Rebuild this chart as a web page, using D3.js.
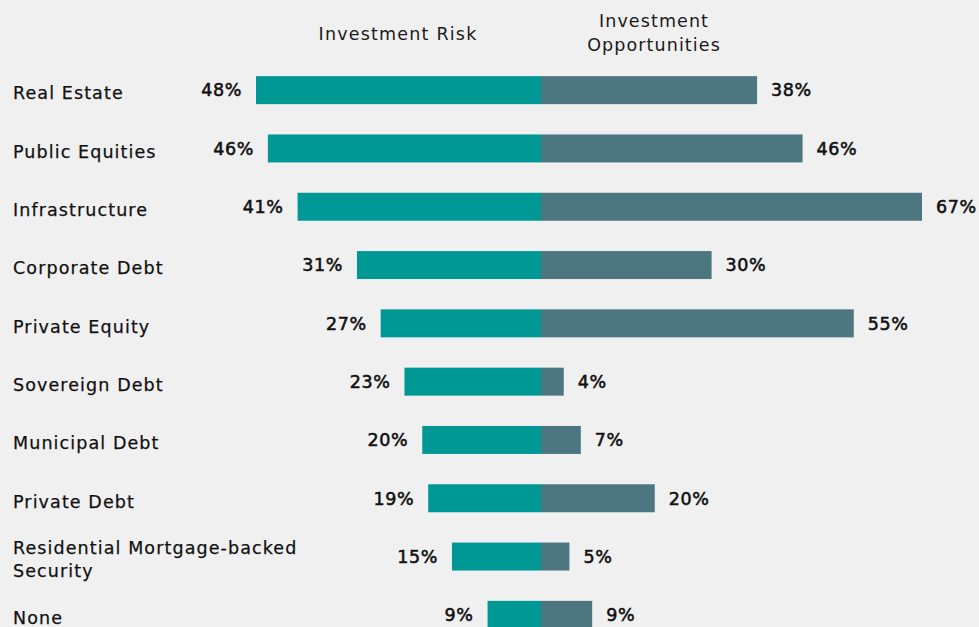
<!DOCTYPE html>
<html>
<head>
<meta charset="utf-8">
<script src="https://cdn.jsdelivr.net/npm/d3@7"></script>
<style>
  html, body { margin: 0; padding: 0; background: #f0f0f0; }
  svg { display: block; font-family: "DejaVu Sans", sans-serif; }
</style>
</head>
<body>
<svg id="chart" width="979" height="627"></svg>
<script>
// Survey shares, percent
const categories = [
    'Real Estate', 'Public Equities', 'Infrastructure', 'Corporate Debt',
    'Private Equity', 'Sovereign Debt', 'Municipal Debt', 'Private Debt',
    'Residential Mortgage-backed Security', 'None'
];
const riskValues = [48, 46, 41, 31, 27, 23, 20, 19, 15, 9];
const opportunityValues = [38, 46, 67, 30, 55, 4, 7, 20, 5, 9];
const headers = [['Investment Risk'], ['Investment', 'Opportunities']];

const W = 979, H = 627;
const centerX = 541;
const colors = { risk: '#009894', opp: '#4c7680' };
const fontSize = 17.5;

const svg = d3.select('#chart').attr('viewBox', [0, 0, W, H]);

// Rows
const y = d3.scaleBand()
    .domain(categories)
    .range([61, 644])
    .paddingInner(0.52)
    .paddingOuter(0.26);

// Left (risk) grows leftward, right (opportunity) grows rightward
const xRisk = d3.scaleLinear().domain([0, d3.max(riskValues)]).range([centerX, 256]);
const xOpp = d3.scaleLinear().domain([0, d3.max(opportunityValues)]).range([centerX, 922]);

const rows = categories.map((c, i) => ({ cat: c, risk: riskValues[i], opp: opportunityValues[i] }));

// Column headers
svg.append('text')
    .attr('x', 398).attr('y', 40)
    .attr('text-anchor', 'middle')
    .attr('font-size', fontSize).attr('letter-spacing', 1.2).attr('fill', '#1a1a1a')
    .text(headers[0][0]);

const oppHead = svg.append('text')
    .attr('x', 654).attr('y', 27)
    .attr('text-anchor', 'middle')
    .attr('font-size', fontSize).attr('letter-spacing', 1.1).attr('fill', '#1a1a1a');
oppHead.selectAll('tspan')
    .data(headers[1])
    .join('tspan')
    .attr('x', 654)
    .attr('dy', (d, i) => i === 0 ? 0 : 24)
    .text(d => d);

// Bars
const g = svg.append('g');

g.selectAll('rect.risk')
    .data(rows)
    .join('rect')
    .attr('class', 'risk')
    .attr('x', d => xRisk(d.risk))
    .attr('y', d => y(d.cat))
    .attr('width', d => centerX - xRisk(d.risk))
    .attr('height', y.bandwidth())
    .attr('fill', colors.risk);

g.selectAll('rect.opp')
    .data(rows)
    .join('rect')
    .attr('class', 'opp')
    .attr('x', centerX)
    .attr('y', d => y(d.cat))
    .attr('width', d => xOpp(d.opp) - centerX)
    .attr('height', y.bandwidth())
    .attr('fill', colors.opp);

// Value labels (regular face with a thin stroke, reads as semibold)
const valueStyle = sel => sel
    .attr('font-size', fontSize).attr('letter-spacing', 0.6)
    .attr('fill', '#111').attr('stroke', '#111').attr('stroke-width', 0.55);

g.selectAll('text.riskLabel')
    .data(rows)
    .join('text')
    .attr('class', 'riskLabel')
    .attr('x', d => xRisk(d.risk) - 14)
    .attr('y', d => y(d.cat) + y.bandwidth() / 2)
    .attr('dy', '0.36em')
    .attr('text-anchor', 'end')
    .call(valueStyle)
    .text(d => d.risk + '%');

g.selectAll('text.oppLabel')
    .data(rows)
    .join('text')
    .attr('class', 'oppLabel')
    .attr('x', d => xOpp(d.opp) + 14)
    .attr('y', d => y(d.cat) + y.bandwidth() / 2)
    .attr('dy', '0.36em')
    .call(valueStyle)
    .text(d => d.opp + '%');

// Category labels (wrap long ones)
const wrapAt = 30;
const catLabel = g.selectAll('text.cat')
    .data(rows)
    .join('text')
    .attr('class', 'cat')
    .attr('x', 13)
    .attr('y', d => y(d.cat) + y.bandwidth() / 2 + 3)
    .attr('font-size', fontSize).attr('letter-spacing', 1.1)
    .attr('fill', '#111').attr('stroke', '#111').attr('stroke-width', 0.25);

catLabel.each(function (d) {
    const words = d.cat.split(' ');
    const lines = [];
    let line = '';
    words.forEach(w => {
        const next = line ? line + ' ' + w : w;
        if (next.length > wrapAt && line) { lines.push(line); line = w; }
        else line = next;
    });
    lines.push(line);
    const sel = d3.select(this);
    const lh = 23;
    sel.selectAll('tspan')
        .data(lines)
        .join('tspan')
        .attr('x', 13)
        .attr('dy', (l, i) => i === 0 ? (0.36 * fontSize - (lines.length - 1) * lh / 2) : lh)
        .text(l => l);
});
</script>
</body>
</html>
